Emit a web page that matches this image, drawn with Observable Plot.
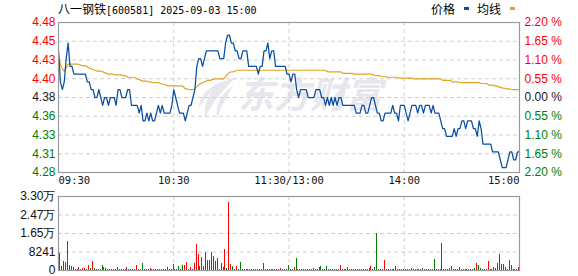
<!DOCTYPE html>
<html><head><meta charset="utf-8">
<script src="https://cdn.jsdelivr.net/npm/d3@7"></script>
<script src="https://cdn.jsdelivr.net/npm/@observablehq/plot@0.6"></script>
<style>
body{margin:0;background:#fff;}
#wrap{position:relative;width:578px;height:276px;overflow:hidden;font-family:"Liberation Sans",Arial,sans-serif;}
.abs{position:absolute;}
#wm{left:238px;top:70px;font:italic bold 36px "Noto Sans CJK SC",sans-serif;color:#e6e6ec;white-space:nowrap;line-height:44px;}
#leaf{left:197px;top:76px;}
#title{left:58px;top:1px;font-size:12px;line-height:15px;white-space:nowrap;color:#000;}
#title .cjk{font-family:"Noto Sans CJK SC",sans-serif;font-size:12px;}
#title .mono{font-family:"DejaVu Sans Mono",monospace;font-size:10px;}
#legend{left:431px;top:1px;font:12px/15px "Noto Sans CJK SC",sans-serif;white-space:nowrap;color:#000;}
#legend i{display:inline-block;width:5px;height:3px;vertical-align:middle;margin:0 8px 4px 9px;}
</style></head><body>
<div id="wrap">
  <svg id="leaf" class="abs" width="42" height="44" viewBox="0 0 42 44">
    <path d="M38 2 C20 6 6 20 8 42 C14 28 24 16 38 2 Z" fill="#e6e6ec"/>
    <path d="M36 10 C26 16 18 28 20 42 C24 30 30 20 36 10 Z" fill="#e6e6ec"/>
    <path d="M30 4 C16 8 2 18 2 32 C8 20 18 12 30 4 Z" fill="#e6e6ec"/>
  </svg>
  <div id="wm" class="abs">东方财富</div>
  <div id="price" class="abs" style="left:0;top:0"></div>
  <div id="vol" class="abs" style="left:0;top:190px"></div>
  <div id="title" class="abs"><span class="cjk">八一钢铁</span><span class="mono">[600581] 2025-09-03 15:00</span></div>
  <div id="legend" class="abs">价格<i style="background:#0a4ea3"></i>均线<i style="background:#e0a521"></i></div>
</div>
<script>
// ---- data ----
const prevClose = 4.38;
const pctTicks = [-2.2, -1.65, -1.1, -0.55, 0, 0.55, 1.1, 1.65, 2.2];
const priceLabels = ["4.28","4.31","4.33","4.36","4.38","4.40","4.43","4.45","4.48"];
const pctLabels = ["2.20 %","1.65 %","1.10 %","0.55 %","0.00 %","0.55 %","1.10 %","1.65 %","2.20 %"];
const timeTicks = [0, 60, 120, 180, 240];
const timeLabels = ["09:30", "10:30", "11:30/13:00", "14:00", "15:00"];
const volTicks = [0, 8241, 16482, 24723, 32964];
const volLabels = ["0", "8241", "1.65万", "2.47万", "3.30万"];

// minute prices 09:30 .. 15:00 (241 points)
const price = [
4.44,4.40,4.39,4.40,4.43,4.45,4.42,4.42,4.41,4.41,
4.41,4.41,4.41,4.41,4.41,4.40,4.40,4.39,4.39,4.38,
4.38,4.39,4.38,4.37,4.38,4.38,4.37,4.38,4.38,4.38,
4.37,4.39,4.39,4.38,4.38,4.38,4.39,4.39,4.37,4.37,
4.37,4.37,4.36,4.37,4.35,4.35,4.36,4.35,4.36,4.35,
4.35,4.36,4.37,4.36,4.37,4.36,4.36,4.36,4.36,4.37,
4.39,4.38,4.37,4.36,4.36,4.36,4.35,4.36,4.37,4.37,
4.38,4.39,4.42,4.43,4.43,4.42,4.43,4.44,4.44,4.44,
4.44,4.44,4.44,4.44,4.43,4.43,4.43,4.45,4.46,4.46,
4.45,4.45,4.44,4.44,4.43,4.43,4.44,4.44,4.44,4.42,
4.42,4.42,4.42,4.42,4.41,4.42,4.42,4.44,4.44,4.45,
4.43,4.44,4.44,4.42,4.42,4.42,4.42,4.42,4.42,4.41,
4.41,4.40,4.41,4.41,4.39,4.38,4.39,4.39,4.39,4.39,
4.38,4.38,4.38,4.38,4.39,4.39,4.39,4.38,4.38,4.37,
4.38,4.37,4.38,4.37,4.38,4.37,4.38,4.38,4.37,4.37,
4.37,4.37,4.37,4.37,4.37,4.36,4.36,4.36,4.37,4.37,
4.36,4.36,4.37,4.38,4.38,4.37,4.36,4.36,4.35,4.35,
4.36,4.36,4.36,4.36,4.37,4.36,4.36,4.35,4.37,4.37,
4.37,4.36,4.35,4.36,4.37,4.37,4.37,4.36,4.37,4.37,
4.36,4.37,4.37,4.37,4.36,4.37,4.36,4.36,4.36,4.35,
4.34,4.34,4.33,4.33,4.33,4.33,4.34,4.33,4.34,4.34,
4.35,4.35,4.34,4.35,4.35,4.35,4.34,4.34,4.33,4.35,
4.34,4.32,4.32,4.32,4.32,4.32,4.31,4.31,4.31,4.31,
4.30,4.29,4.29,4.29,4.30,4.31,4.31,4.30,4.30,4.31,
4.31];

// average price line (241 points)
const avgPrice = [
4.434,4.423,4.417,4.414,4.418,4.423,4.423,4.423,4.423,4.423,
4.423,4.422,4.421,4.421,4.421,4.419,4.418,4.417,4.416,4.415,
4.414,4.414,4.414,4.413,4.412,4.411,4.410,4.410,4.410,4.409,
4.409,4.409,4.409,4.409,4.408,4.408,4.406,4.406,4.406,4.406,
4.405,4.404,4.403,4.402,4.401,4.401,4.401,4.400,4.400,4.399,
4.399,4.399,4.399,4.398,4.397,4.397,4.396,4.395,4.395,4.395,
4.395,4.395,4.395,4.395,4.395,4.394,4.391,4.391,4.390,4.390,
4.390,4.391,4.394,4.396,4.398,4.399,4.400,4.401,4.402,4.402,
4.403,4.404,4.404,4.404,4.404,4.404,4.404,4.407,4.410,4.412,
4.413,4.413,4.414,4.415,4.415,4.415,4.415,4.415,4.415,4.415,
4.415,4.415,4.415,4.415,4.415,4.415,4.415,4.415,4.415,4.415,
4.415,4.415,4.415,4.415,4.415,4.415,4.415,4.415,4.415,4.415,
4.415,4.415,4.415,4.415,4.415,4.415,4.415,4.415,4.415,4.415,
4.415,4.415,4.415,4.415,4.415,4.415,4.415,4.415,4.415,4.415,
4.413,4.413,4.413,4.413,4.413,4.413,4.413,4.413,4.411,4.411,
4.411,4.411,4.411,4.411,4.410,4.410,4.410,4.410,4.410,4.410,
4.410,4.410,4.410,4.410,4.409,4.408,4.408,4.408,4.407,4.407,
4.407,4.406,4.406,4.406,4.406,4.406,4.406,4.405,4.405,4.405,
4.405,4.405,4.405,4.405,4.405,4.404,4.404,4.404,4.404,4.404,
4.404,4.404,4.404,4.404,4.404,4.404,4.404,4.404,4.404,4.404,
4.402,4.402,4.402,4.402,4.402,4.400,4.400,4.400,4.400,4.399,
4.399,4.399,4.399,4.399,4.399,4.399,4.399,4.399,4.399,4.399,
4.398,4.398,4.398,4.398,4.396,4.396,4.396,4.395,4.395,4.394,
4.393,4.392,4.392,4.391,4.391,4.391,4.390,4.390,4.390,4.390,
4.390];

// minute volumes 09:31 .. 15:00 (240 bars) and direction (1 up/red, 0 down/green)
const volume = [
7574,1782,4010,3564,12920,2228,1930,1485,594,450,
1337,594,891,891,450,2228,1040,4010,891,594,
450,450,2228,1485,1040,450,450,450,450,450,
1485,450,450,450,450,1485,450,450,594,450,
2228,450,450,3118,450,450,450,891,450,450,
450,594,450,450,594,450,1485,594,450,2673,
450,450,1930,450,2228,2228,3564,450,1485,450,
3118,11583,7128,1782,5791,1782,8019,4455,4455,8019,
6237,4010,5346,594,3118,1337,9207,891,30294,2673,
1782,594,1782,450,3564,450,450,450,450,450,
450,450,450,594,450,450,3118,450,450,450,
450,450,450,450,450,891,450,450,450,2228,
450,450,1337,5346,450,450,450,450,450,450,
450,594,891,450,594,1337,1782,450,450,1782,
450,450,450,450,450,450,2228,450,450,450,
1337,450,450,450,450,450,450,450,450,450,
594,891,1782,450,1337,16632,450,450,450,4455,
450,450,450,450,450,1782,450,450,450,450,
450,450,450,891,450,450,450,450,450,891,
450,450,450,450,450,4900,450,450,450,12029,
450,450,450,891,1782,450,450,450,1337,450,
450,450,450,450,450,450,891,3118,2228,891,
450,450,450,4010,450,450,1337,891,3118,7128,
2673,2673,1337,450,4455,2228,450,450,450,1337];
const volUp = [
1,0,1,1,1,0,1,0,1,0, 1,1,1,1,1,1,0,1,0,1, 0,1,0,1,1,0,1,1,1,1, 1,0,1,1,0,1,1,0,1,1,
1,0,1,0,1,1,1,1,0,1, 1,1,0,1,0,1,1,1,1,1, 0,1,0,1,0,1,1,1,1,1, 1,1,1,1,1,0,1,1,1,1,
1,1,1,0,1,0,1,0,1,1, 0,1,1,1,0,1,1,1,0,1, 0,1,1,1,0,1,1,1,0,1, 1,1,1,1,1,1,1,1,1,0,
1,1,1,0,1,1,1,1,1,1, 1,1,0,1,1,1,0,1,1,0, 1,1,0,1,0,1,1,1,0,1, 1,0,1,1,1,1,1,1,1,1,
1,1,1,0,0,0,1,1,1,1, 1,1,1,0,1,1,0,1,1,1, 1,1,1,1,1,1,1,1,1,0, 1,1,1,1,1,0,1,1,1,0,
1,1,1,1,1,1,0,1,1,1, 1,1,1,1,1,1,0,1,0,0, 1,1,1,1,1,1,1,1,1,0, 0,1,1,1,1,1,0,1,1,1];

// ---- drawing ----
const W = 578, ML = 58, MR = 59;
const RED = "#ff0000", GREEN = "#008000", GRID = "#cfcfcf", FRAME = "#9a9a9a";
const FONT = "Liberation Sans, Arial, sans-serif";
const tickPrices = pctTicks.map(p => prevClose * (1 + p / 100));
const tickColor = (i) => pctTicks[i] > 0 ? RED : pctTicks[i] < 0 ? GREEN : "#1a1a1a";

const pricePlot = Plot.plot({
  width: W, height: 195,
  marginLeft: ML, marginRight: MR, marginTop: 22, marginBottom: 23,
  style: {background: "transparent", overflow: "visible"},
  x: {domain: [0, 240], axis: null},
  y: {domain: [tickPrices[0], tickPrices[8]], axis: null},
  color: {type: "identity"},
  marks: [
    Plot.ruleY(tickPrices.slice(1, 8), {stroke: GRID, strokeDasharray: "4,3"}),
    Plot.ruleX(timeTicks.slice(1, 4), {stroke: GRID, strokeDasharray: "4,3"}),
    Plot.line(avgPrice, {x: (d, i) => i, y: d => d, stroke: "#e0a521", strokeWidth: 1.2}),
    Plot.line(price, {x: (d, i) => i, y: d => d, stroke: "#0a4ea3", strokeWidth: 1.25}),
    Plot.frame({stroke: FRAME, strokeWidth: 1.2}),
    Plot.text(tickPrices, {y: d => d, text: (d, i) => priceLabels[i], frameAnchor: "left", dx: -3, textAnchor: "end",
      fill: (d, i) => tickColor(i), fontSize: 12, fontFamily: FONT}),
    Plot.text(tickPrices, {y: d => d, text: (d, i) => pctLabels[i], frameAnchor: "right", dx: 5, textAnchor: "start",
      fill: (d, i) => tickColor(i), fontSize: 12, fontFamily: FONT}),
    Plot.text(timeTicks.slice(0, 1), {x: d => d, text: (d) => timeLabels[0], frameAnchor: "bottom", dy: 11, textAnchor: "start",
      fill: "#111", fontSize: 10.5, fontFamily: "DejaVu Sans Mono, monospace"}),
    Plot.text(timeTicks.slice(1, 4), {x: d => d, text: (d, i) => timeLabels[i + 1], frameAnchor: "bottom", dy: 11, textAnchor: "middle",
      fill: "#111", fontSize: 10.5, fontFamily: "DejaVu Sans Mono, monospace"}),
    Plot.text(timeTicks.slice(4), {x: d => d, text: (d) => timeLabels[4], frameAnchor: "bottom", dy: 11, textAnchor: "end",
      fill: "#111", fontSize: 10.5, fontFamily: "DejaVu Sans Mono, monospace"})
  ]
});
document.getElementById("price").appendChild(pricePlot);

const volPlot = Plot.plot({
  width: W, height: 86,
  marginLeft: ML, marginRight: MR, marginTop: 6, marginBottom: 6,
  style: {background: "transparent", overflow: "visible"},
  x: {domain: [0, 240], axis: null},
  y: {domain: [0, volTicks[4]], axis: null},
  color: {type: "identity"},
  marks: [
    Plot.ruleY(volTicks.slice(1, 4), {stroke: GRID, strokeDasharray: "4,3"}),
    Plot.ruleX(timeTicks.slice(1, 4), {stroke: GRID, strokeDasharray: "4,3"}),
    Plot.rectY(volume, {x1: (d, i) => i + 1 - 0.35, x2: (d, i) => i + 1 + 0.17, y: d => d,
      fill: (d, i) => volUp[i] ? RED : GREEN, shapeRendering: "crispEdges"}),
    Plot.frame({stroke: FRAME, strokeWidth: 1.2}),
    Plot.text(volTicks, {y: d => d, text: (d, i) => volLabels[i], frameAnchor: "left", dx: -3, textAnchor: "end",
      fill: "#111", fontSize: 12, fontFamily: FONT})
  ]
});
document.getElementById("vol").appendChild(volPlot);
</script>
</body></html>
